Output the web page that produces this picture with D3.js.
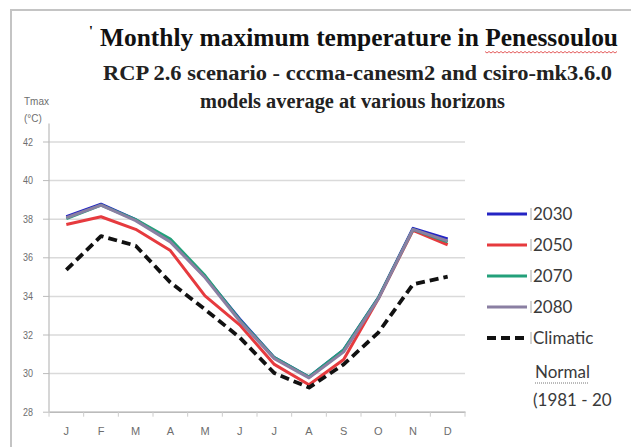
<!DOCTYPE html>
<meta charset="utf-8">
<script src="https://d3js.org/d3.v7.min.js"></script>
<style>
    body { margin: 0; background: #fff; }
    svg { display: block; }
</style>
<div id="chart"></div>
<script>

    // data
    var months = ["J", "F", "M", "A", "M", "J", "J", "A", "S", "O", "N", "D"];
    var t2030 = [38.1, 38.75, 37.95, 36.85, 35.0, 32.8, 30.8, 29.8, 31.2, 33.9, 37.5, 36.95];
    var t2050 = [37.7, 38.1, 37.45, 36.35, 34.0, 32.5, 30.45, 29.4, 30.7, 33.85, 37.4, 36.65];
    var t2070 = [38.0, 38.7, 37.95, 36.95, 35.05, 32.75, 30.8, 29.8, 31.2, 33.9, 37.45, 36.8];
    var t2080 = [38.05, 38.7, 37.9, 36.8, 34.95, 32.7, 30.75, 29.75, 31.1, 33.85, 37.45, 36.85];
    var normal = [35.35, 37.1, 36.6, 34.7, 33.3, 31.85, 30.0, 29.25, 30.45, 32.1, 34.6, 35.0];
    var yTicks = [28, 30, 32, 34, 36, 38, 40, 42];

    var series = [
        { name: "2030", values: t2030, color: "#2424c4", dash: null },
        { name: "2050", values: t2050, color: "#e63a3e", dash: null },
        { name: "2070", values: t2070, color: "#23a07a", dash: null },
        { name: "2080", values: t2080, color: "#8a7fa2", dash: null },
        { name: "Climatic", values: normal, color: "#111", dash: "9,5" }
    ];

    var W = 631, H = 447;
    var plot = { left: 49, right: 465, top: 141.5, bottom: 411.7 };

    var svg = d3.select("#chart").append("svg")
        .attr("width", W)
        .attr("height", H);

    // frame of the pasted chart
    svg.append("rect")
        .attr("x", 11).attr("y", 10)
        .attr("width", W).attr("height", H)
        .attr("fill", "#fff")
        .attr("stroke", "#c4c4c4")
        .attr("stroke-width", 2);

    // x scale: one band per month, points at band centre
    var x = d3.scaleBand()
        .domain(d3.range(months.length))
        .range([plot.left, plot.right])
        .padding(0);
    var y = d3.scaleLinear()
        .domain([28, 42])
        .range([plot.bottom, plot.top]);

    // gridlines
    svg.append("g")
        .attr("transform", "translate(" + plot.left + ",0)")
        .call(d3.axisLeft(y).tickValues(yTicks).tickSize(-(plot.right - plot.left)).tickFormat(""))
        .call(function (g) { g.select(".domain").remove(); })
        .selectAll("line")
        .attr("stroke", "#dadada")
        .attr("stroke-width", 1.5);

    // y axis ticks + labels
    var yAxis = svg.append("g")
        .attr("transform", "translate(" + plot.left + ",0)")
        .call(d3.axisLeft(y).tickValues(yTicks).tickSize(6).tickPadding(10));
    yAxis.select(".domain").remove();
    yAxis.selectAll("line").attr("stroke", "#bbb");
    yAxis.selectAll("text")
        .attr("fill", "#6e6e6e")
        .style("font-family", "Liberation Sans, Arial")
        .style("font-size", "11px")
        .attr("textLength", 10)
        .attr("lengthAdjust", "spacingAndGlyphs");

    // vertical axis line runs a little above the plot top
    svg.append("line")
        .attr("x1", plot.left).attr("x2", plot.left)
        .attr("y1", y(42) - 18).attr("y2", y(28))
        .attr("stroke", "#bbb").attr("stroke-width", 1.2);

    // x axis
    var xAxis = svg.append("g")
        .attr("transform", "translate(0," + y(28) + ")")
        .call(d3.axisBottom(x).tickSize(0).tickPadding(16).tickFormat(function (i) { return months[i]; }));
    xAxis.select(".domain").attr("stroke", "#bbb").attr("stroke-width", 1.5);
    xAxis.selectAll("text")
        .attr("fill", "#6e6e6e")
        .style("font-family", "Liberation Sans, Arial")
        .style("font-size", "11px");
    // small category ticks between months
    xAxis.selectAll(".cat")
        .data(d3.range(months.length + 1))
        .enter().append("line")
        .attr("x1", function (i) { return plot.left + i * x.step(); })
        .attr("x2", function (i) { return plot.left + i * x.step(); })
        .attr("y1", 0).attr("y2", 5)
        .attr("stroke", "#ccc");

    // lines
    var line = d3.line()
        .x(function (d, i) { return x(i) + x.bandwidth() / 2; })
        .y(function (d) { return y(d); });

    svg.append("g").selectAll("path")
        .data(series)
        .enter().append("path")
        .attr("d", function (d) { return line(d.values); })
        .attr("fill", "none")
        .attr("stroke", function (d) { return d.color; })
        .attr("stroke-width", function (d) { return d.dash ? 3.8 : 3; })
        .attr("stroke-dasharray", function (d) { return d.dash; })
        .attr("stroke-linejoin", "round");

    // titles
    var serif = "Liberation Serif, Times New Roman, serif";
    svg.append("text")
        .attr("x", 89).attr("y", 36)
        .style("font-family", serif).style("font-size", "14px").style("font-weight", "bold")
        .text("'");
    svg.append("text")
        .attr("x", 100).attr("y", 46)
        .attr("textLength", 518).attr("lengthAdjust", "spacingAndGlyphs")
        .style("font-family", serif).style("font-size", "25px").style("font-weight", "bold")
        .attr("fill", "#111")
        .text("Monthly maximum  temperature in Penessoulou");
    // spell-check squiggle under the place name
    var wave = d3.range(485, 618, 2);
    svg.append("path")
        .attr("d", d3.line().x(function (d) { return d; }).y(function (d, i) { return 52 + (i % 2 ? 1 : -0.5); })(wave))
        .attr("fill", "none").attr("stroke", "#d33").attr("stroke-width", 0.8);

    svg.append("text")
        .attr("x", 103).attr("y", 80)
        .attr("textLength", 509).attr("lengthAdjust", "spacingAndGlyphs")
        .style("font-family", serif).style("font-size", "20px").style("font-weight", "bold")
        .attr("fill", "#222")
        .text("RCP 2.6 scenario - cccma-canesm2 and csiro-mk3.6.0");
    svg.append("text")
        .attr("x", 200).attr("y", 108)
        .attr("textLength", 305).attr("lengthAdjust", "spacingAndGlyphs")
        .style("font-family", serif).style("font-size", "20px").style("font-weight", "bold")
        .attr("fill", "#222")
        .text("models average at various horizons");

    // y axis title
    svg.append("text")
        .attr("x", 24).attr("y", 105)
        .style("font-family", "Liberation Sans, Arial").style("font-size", "10px")
        .attr("fill", "#6e6e6e")
        .text("Tmax");
    svg.append("text")
        .attr("x", 24).attr("y", 122)
        .style("font-family", "Liberation Sans, Arial").style("font-size", "10px")
        .attr("fill", "#6e6e6e")
        .text("(°C)");

    // legend
    var legend = svg.append("g").selectAll("g")
        .data(series)
        .enter().append("g")
        .attr("transform", function (d, i) { return "translate(487," + (214 + i * 31) + ")"; });
    legend.append("line")
        .attr("x1", 0).attr("x2", 40)
        .attr("stroke", function (d) { return d.color; })
        .attr("stroke-width", function (d) { return d.dash ? 3.8 : 3; })
        .attr("stroke-dasharray", function (d) { return d.dash ? "9,5" : null; });
    legend.append("line")
        .attr("x1", 44).attr("x2", 44).attr("y1", -6).attr("y2", 6)
        .attr("stroke", "#aaa").attr("stroke-width", 1);
    legend.append("text")
        .attr("x", 46).attr("y", 6)
        .style("font-family", "Lato, Open Sans, sans-serif").style("font-size", "17px")
        .attr("fill", "#3a3a3a")
        .text(function (d) { return d.name; });

    var lg = svg.append("g").attr("transform", "translate(487,0)");
    lg.append("text")
        .attr("x", 48).attr("y", 378)
        .style("font-family", "Lato, Open Sans, sans-serif").style("font-size", "17px")
        .attr("fill", "#3a3a3a")
        .text("Normal");
    lg.append("line")
        .attr("x1", 48).attr("x2", 101).attr("y1", 383).attr("y2", 383)
        .attr("stroke", "#777").attr("stroke-dasharray", "1,1");
    // the reference picture is cropped right after "20"
    lg.append("text")
        .attr("x", 46).attr("y", 406)
        .style("font-family", "Lato, Open Sans, sans-serif").style("font-size", "17px")
        .attr("fill", "#3a3a3a")
        .text("(1981 - 20");

</script>
